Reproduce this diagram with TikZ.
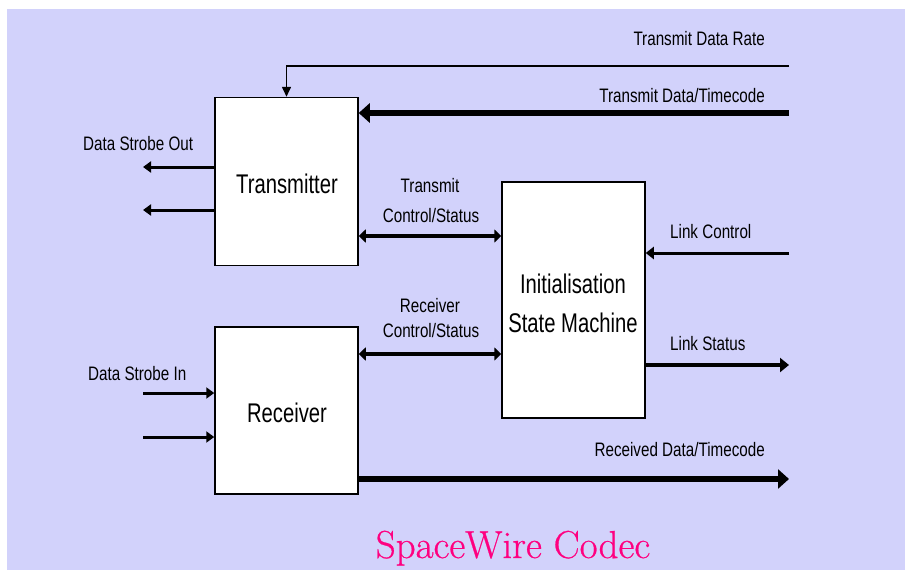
\documentclass[tikz,border=0pt]{standalone}
\usepackage{fontspec}
\setmainfont{Liberation Sans}
\newfontfamily\titlefont[FakeBold=0.6]{Latin Modern Roman}
\usetikzlibrary{arrows.meta,calc}
\definecolor{lav}{RGB}{210,210,251}
\definecolor{codecpink}{RGB}{255,0,128}
\newcommand{\nlab}[1]{\scalebox{0.78}[1]{#1}}
\newcommand{\nblk}[1]{\scalebox{0.75}[1]{#1}}
\tikzset{
  block/.style={draw=black, line width=1.5pt, fill=white, inner sep=0pt},
  lab/.style={font=\fontsize{19.5}{20}\selectfont, inner sep=0pt},
  blab/.style={font=\fontsize{27}{28}\selectfont, inner sep=0pt},
  thinsig/.style={line width=1.6pt, -{Triangle[length=10pt,width=9pt]}},
  busin/.style={line width=6pt, -{Triangle[length=11pt,width=19pt]}},
  strobe/.style={line width=3pt, -{Triangle[length=8pt,width=11pt]}},
  ctrl/.style={line width=4.5pt, {Triangle[length=7pt,width=13pt]}-{Triangle[length=7pt,width=13pt]}},
  linkin/.style={line width=3pt, -{Triangle[length=8pt,width=12pt]}},
  linkout/.style={line width=4pt, -{Triangle[length=9pt,width=14pt]}},
}
\begin{document}
\begin{tikzpicture}[x=1pt,y=-1pt]
  \useasboundingbox (0,0) rectangle (905,570);
  \fill[lav] (7,9) rectangle (905,570);

  % functional blocks
  \node[block, minimum width=143pt, minimum height=168pt] (tx) at (286.5,181.5) {};
  \node[block, minimum width=143pt, minimum height=167pt] (rx) at (286.5,410.5) {};
  \node[block, minimum width=143pt, minimum height=236pt] (ism) at (573.5,300) {};

  \node[blab, anchor=base] (txt) at (287,193) {\nblk{Transmitter}};
  \node[blab, anchor=base] (rxt) at (287,422) {\nblk{Receiver}};
  \node[blab, anchor=base] (ismt1) at (573,293) {\nblk{Initialisation}};
  \node[blab, anchor=base] (ismt2) at (573,332) {\nblk{State Machine}};

  % free ends of the signals
  \coordinate (tdr) at (789,66);
  \coordinate (tdt) at (789,113);
  \coordinate (dso1) at (143,167);
  \coordinate (dso2) at (143,210);
  \coordinate (tcs) at (430,236);
  \coordinate (lc) at (789,253);
  \coordinate (rcs) at (430,354);
  \coordinate (ls) at (789,365);
  \coordinate (dsi1) at (143,393);
  \coordinate (dsi2) at (143,437);
  \coordinate (rd) at (789,479);

  % signals
  \draw[thinsig] (tdr) -| (tx.north);
  \draw[busin] (tdt) -- (tdt -| tx.east);
  \draw[strobe] (dso1 -| tx.west) -- (dso1);
  \draw[strobe] (dso2 -| tx.west) -- (dso2);
  \draw[ctrl] (tcs -| tx.east) -- (tcs -| ism.west);
  \draw[linkin] (lc) -- (lc -| ism.east);
  \draw[ctrl] (rcs -| rx.east) -- (rcs -| ism.west);
  \draw[linkout] (ls -| ism.east) -- (ls);
  \draw[strobe] (dsi1) -- (dsi1 -| rx.west);
  \draw[strobe] (dsi2) -- (dsi2 -| rx.west);
  \draw[busin] (rd -| rx.east) -- (rd);

  % signal labels
  \node[lab, anchor=base east] (l1) at (765,45) {\nlab{Transmit Data Rate}};
  \node[lab, anchor=base east] (l2) at (765,102) {\nlab{Transmit Data/Timecode}};
  \node[lab, anchor=base west] (l3) at (83,150) {\nlab{Data Strobe Out}};
  \node[lab, anchor=base] (l4a) at (430,192) {\nlab{Transmit}};
  \node[lab, anchor=base] (l4b) at (431,222) {\nlab{Control/Status}};
  \node[lab, anchor=base west] (l5) at (670,238) {\nlab{Link Control}};
  \node[lab, anchor=base] (l6a) at (430,312) {\nlab{Receiver}};
  \node[lab, anchor=base] (l6b) at (431,337) {\nlab{Control/Status}};
  \node[lab, anchor=base west] (l7) at (670,350) {\nlab{Link Status}};
  \node[lab, anchor=base west] (l8) at (88,380) {\nlab{Data Strobe In}};
  \node[lab, anchor=base east] (l9) at (765,456) {\nlab{Received Data/Timecode}};

  % title
  \node[font=\titlefont\fontsize{39}{40}\selectfont, text=codecpink, anchor=base, inner sep=0pt] (title) at (513,558) {SpaceWire Codec};
\end{tikzpicture}
\end{document}
